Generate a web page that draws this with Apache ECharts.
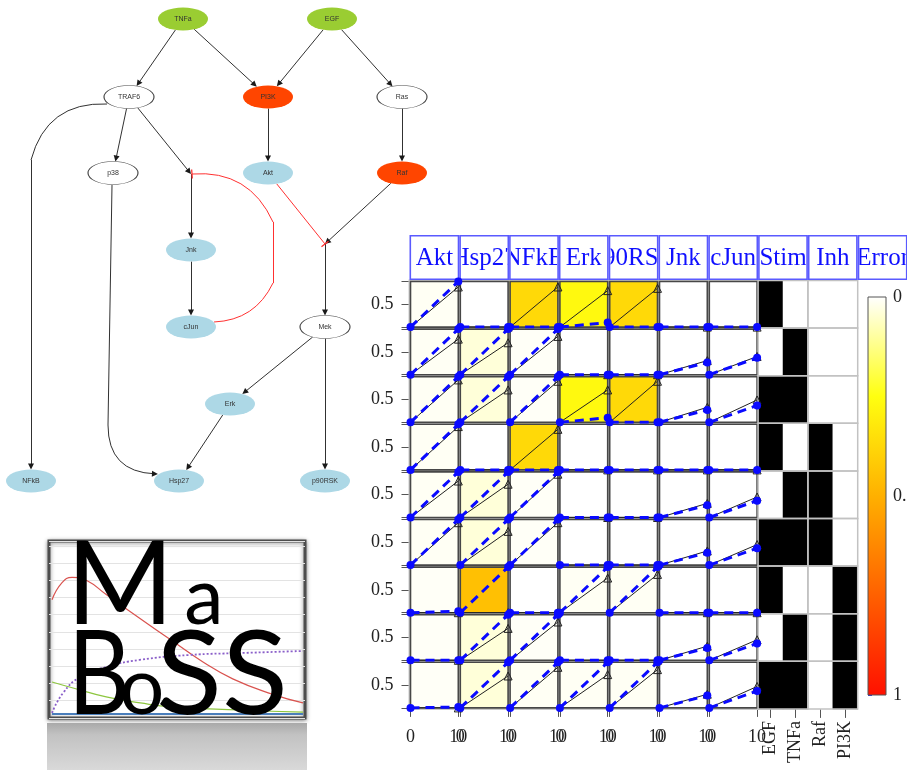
<!DOCTYPE html>
<html><head><meta charset="utf-8">
<script src="https://cdn.jsdelivr.net/npm/echarts@6/dist/echarts.min.js"></script>
<style>html,body{margin:0;padding:0;background:#fff}#c{width:907px;height:770px}</style>
</head><body><div id="c"></div>
<script>
// ================= DATA =================
// network
const networkNodes = ['TNFa','EGF','TRAF6','PI3K','Ras','p38','Akt','Raf','Jnk','cJun','Mek','Erk','NFkB','Hsp27','p90RSK'];
const nodeKinds    = ['stimulus','stimulus','hidden','inhibited','hidden','hidden','readout','inhibited','readout','readout','hidden','readout','readout','readout','readout'];
// [source, target, sign]  (and1 / and2 are AND-gate junctions)
const networkEdges = [
  ['TNFa','TRAF6',1],['TNFa','PI3K',1],['EGF','PI3K',1],['EGF','Ras',1],
  ['TRAF6','NFkB',1],['TRAF6','p38',1],['TRAF6','and1',1],['PI3K','Akt',1],['Ras','Raf',1],
  ['and1','Jnk',1],['Jnk','cJun',1],['cJun','and1',-1],['Akt','and2',-1],['Raf','and2',1],
  ['and2','Mek',1],['Mek','Erk',1],['Mek','p90RSK',1],['Erk','Hsp27',1],['p38','Hsp27',1]
];

// CNO-like data / simulation plot
const readouts = ['Akt','Hsp27','NFkB','Erk','p90RSK','Jnk','cJun'];
const headerLabels = ['Akt','Hsp27','NFkB','Erk','p90RSK','Jnk','cJun','Stim','Inh','Error'];
const conditions = ['EGF','TNFa','EGF+TNFa','EGF+Raf-i','TNFa+Raf-i','EGF+TNFa+Raf-i','EGF+PI3K-i','TNFa+PI3K-i','EGF+TNFa+PI3K-i'];
const timePoints = [0, 10];
const stimCues = ['EGF','TNFa'];
const inhCues = ['Raf','PI3K'];
const stimMatrix = [[1,0],[0,1],[1,1],[1,0],[0,1],[1,1],[1,0],[0,1],[1,1]];
const inhMatrix  = [[0,0],[0,0],[0,0],[1,0],[1,0],[1,0],[0,1],[0,1],[0,1]];
// measured data (black) at t=0 and t=10
const dataT0 = [
  [0,0,0,0,0,0,0],[0,0,0,0,0,0,0],[0,0,0,0,0,0,0],[0,0,0,0,0,0,0],[0,0,0,0,0,0,0],
  [0,0,0,0,0,0,0],[0,0,0,0,0,0,0],[0,0,0,0,0,0,0],[0,0,0,0,0,0,0]];
const dataT10 = [
  [0.88,0,   0.88,0.80,0.85,0,   0   ],
  [0.78,0.70,0.84,0,   0,   0.31,0.40],
  [0.93,0.71,0.90,0.71,0.90,0.33,0.49],
  [0.95,0,   0.89,0,   0,   0,   0   ],
  [0.80,0.73,0.95,0,   0,   0.31,0.45],
  [0.93,0.74,0.93,0,   0,   0.31,0.45],
  [0,   0,   0,   0.76,0.84,0,   0   ],
  [0,   0.70,0.84,0,   0,   0.31,0.45],
  [0,   0.70,0.89,0.73,0.84,0.30,0.47]];
// simulation (blue) at t=0 and t=10
const simT0 = [
  [0,0,0,0,0,0,0],[0,0,0,0,0,0,0],[0,0,0,0,0,0,0],[0,0,0,0,0,0,0],[0,0,0,0,0,0,0],
  [0,0,0,0,0,0,0],[0,0,0,0,0,0,0],[0,0,0,0,0,0,0],[0,0,0,0,0,0,0]];
const simT10 = [
  [1,   0,0,0.10,0,0,   0   ],
  [1,   1,1,0,   0,0.27,0.37],
  [1,   1,1,0.10,0,0.27,0.37],
  [1,   0,0,0,   0,0,   0   ],
  [1,   1,1,0,   0,0.27,0.37],
  [1,   1,1,0,   0,0.27,0.37],
  [0.03,1,0,1,   1,0,   0   ],
  [0,   1,1,0,   0,0.27,0.37],
  [0.02,1,1,1,   1,0.27,0.37]];
const errorMatrix = [
  [0.012,0,    0.37, 0.27, 0.37, 0,0],
  [0.012,0.04, 0.008,0,    0,    0,0],
  [0.012,0.04, 0.008,0.27, 0.37, 0,0],
  [0.012,0,    0.37, 0,    0,    0,0],
  [0.012,0.04, 0.008,0,    0,    0,0],
  [0.012,0.04, 0.008,0,    0,    0,0],
  [0.008,0.45, 0,    0.012,0.012,0,0],
  [0.008,0.04, 0.008,0,    0,    0,0],
  [0.008,0.04, 0.012,0.012,0.012,0,0]];
const colorbarTicks = [0, 0.5, 1];
const errorColors = ['#ffffff','#ffff10','#ffb000','#ff6000','#ff1000'];

// MaBoSS logo trajectories [time, probability]
const logoRed    = [[0,0.67],[1,0.77],[2,0.80],[3.5,0.78],[5.4,0.70],[8.8,0.56],[12,0.43],[15,0.31],[18,0.21],[22,0.12],[25,0.07]];
const logoPurple = [[0,0.012],[1.1,0.128],[2.8,0.221],[5.4,0.279],[8.7,0.32],[13.7,0.349],[18.7,0.36],[25,0.372]];
const logoGreen  = [[0,0.192],[2.1,0.157],[5.4,0.105],[8.8,0.07],[12,0.047],[18.7,0.029],[25,0.017]];
const logoBlue   = [[0,0.006],[25,0.006]];

// ================= LAYOUT =================
const nodePos = {TNFa:[183,19],EGF:[332,19],TRAF6:[129,97],PI3K:[268,97],Ras:[402,97],p38:[113,173],
  Akt:[268,173],Raf:[402,173],Jnk:[191,250],cJun:[191,327],Mek:[325,327],Erk:[230,404],
  NFkB:[31,481],Hsp27:[179,481],p90RSK:[325,481],and1:[191,174],and2:[325,244]};
const nodeHalf = [25, 11.5];
// hand-routed curved edges: list of segments [from, to, curveness]
const curvedRoutes = {
  'TRAF6>NFkB': [[[107,104],[31,160],-0.4],[[31,160],'NFkB',0]],
  'p38>Hsp27':  [[[112,185],[108,425],0],[[108,425],[157,476],-0.48]],
  'cJun>and1':  [[[214,322],[273,283],-0.3],[[273,283],[273,222],0],[[273,222],[192,174],-0.35]]
};
const kindStyle = {
  stimulus:{color:'#9acd32', borderWidth:0},
  inhibited:{color:'#ff4500', borderWidth:0},
  readout:{color:'#add8e6', borderWidth:0},
  hidden:{color:'#ffffff', borderColor:'#444', borderWidth:0.8}
};
const serif = '"Liberation Serif","DejaVu Serif",serif';
const logoFont = 'Lato,"DejaVu Sans",sans-serif';
const colX0 = 409.5, colW = 49.8, rowY0 = 280.5, rowH = 47.6;
const cbBox = {x:868, y:297, w:18, h:398};

// ================= BUILD =================
const grid=[], xAxis=[], yAxis=[], series=[];
function addGrid(g, xa, ya){ g.outerBoundsMode='none'; g.containLabel=false;
  grid.push(g); const i=grid.length-1; xa.gridIndex=i; ya.gridIndex=i; xAxis.push(xa); yAxis.push(ya); return i; }

// ---- network on a full-canvas hidden cartesian ----
const netIdx = addGrid({left:0,top:0,width:907,height:770},
  {type:'value',min:0,max:907,show:false},{type:'value',min:0,max:770,inverse:true,show:false});
function half(n){ return n.startsWith('and') ? null : nodeHalf; }
function clipPt(c, toward, h){ if(!h) return c.slice(); const dx=toward[0]-c[0], dy=toward[1]-c[1];
  const t=1/Math.sqrt((dx/h[0])**2+(dy/h[1])**2); return [c[0]+dx*t, c[1]+dy*t]; }
function pullBack(p, from, d){ const dx=p[0]-from[0], dy=p[1]-from[1], L=Math.hypot(dx,dy); return [p[0]-dx/L*d, p[1]-dy/L*d]; }
const actHead=[], actPlain=[], inhHead=[], inhPlain=[];
networkEdges.forEach(([s,t,sign])=>{
  const key = s+'>'+t;
  const headArr = sign>0?actHead:inhHead, plainArr = sign>0?actPlain:inhPlain;
  const back = sign>0?3:0;
  if (curvedRoutes[key]) {
    const segs = curvedRoutes[key];
    segs.forEach(([a,b,c],k)=>{
      let pb = typeof b==='string' ? clipPt(nodePos[b], a, half(b)) : b;
      if (k===segs.length-1) pb = pullBack(pb, a, back);
      (k===segs.length-1?headArr:plainArr).push({coords:[a,pb], lineStyle:{curveness:c}});
    });
  } else {
    const p1 = clipPt(nodePos[s], nodePos[t], half(s));
    let p2 = clipPt(nodePos[t], nodePos[s], half(t));
    p2 = pullBack(p2, p1, back);
    headArr.push({coords:[p1,p2]});
  }
});
const tee = 'path://M0,4.3L10,4.3L10,5.7L0,5.7Z M4.99,0L5.01,0L5,0.02Z M4.99,10L5.01,10L5,9.98Z';
series.push({type:'lines',coordinateSystem:'cartesian2d',xAxisIndex:netIdx,yAxisIndex:netIdx,silent:true,
  symbol:['none','triangle'],symbolSize:6,lineStyle:{color:'#1a1a1a',width:0.9,opacity:1},data:actHead});
series.push({type:'lines',coordinateSystem:'cartesian2d',xAxisIndex:netIdx,yAxisIndex:netIdx,silent:true,
  symbol:['none','none'],lineStyle:{color:'#1a1a1a',width:0.9,opacity:1},data:actPlain});
series.push({type:'lines',coordinateSystem:'cartesian2d',xAxisIndex:netIdx,yAxisIndex:netIdx,silent:true,
  symbol:['none',tee],symbolSize:9,itemStyle:{color:'#ff2a2a'},lineStyle:{color:'#ff3030',width:1,opacity:1},data:inhHead});
series.push({type:'lines',coordinateSystem:'cartesian2d',xAxisIndex:netIdx,yAxisIndex:netIdx,silent:true,
  symbol:['none','none'],lineStyle:{color:'#ff3030',width:1,opacity:1},data:inhPlain});
series.push({type:'graph',coordinateSystem:'cartesian2d',xAxisIndex:netIdx,yAxisIndex:netIdx,layout:'none',silent:true,
  symbol:'circle',symbolSize:[50,23],z:5,
  label:{show:true,position:'inside',fontSize:7,color:'#333',fontFamily:'"Liberation Sans",sans-serif'},
  data: networkNodes.map((n,i)=>({name:n,value:nodePos[n],itemStyle:kindStyle[nodeKinds[i]]})),
  links:[]});

// ---- MaBoSS logo ----
const logoIdx = addGrid({left:49,top:541,width:256,height:177,show:true,backgroundColor:'#fff',borderColor:'#4d4d4d',borderWidth:3,
    shadowBlur:4,shadowColor:'rgba(0,0,0,0.45)',shadowOffsetY:1},
  {type:'value',min:-0.3,max:25.2,show:false},
  {type:'value',min:-0.0175,max:1.0116,interval:0.1,axisLine:{show:false},axisTick:{show:false},axisLabel:{show:false},
   splitLine:{show:true,lineStyle:{color:'#e3e3e3',width:1}}});
[[logoRed,'#d9534f','solid',1.2],[logoPurple,'#8a5fc9',[2,2],1.8],[logoGreen,'#8dc63f','solid',1.2],[logoBlue,'#4a7ebb','solid',2]]
 .forEach(([d,c,t,w])=>series.push({type:'line',xAxisIndex:logoIdx,yAxisIndex:logoIdx,data:d,smooth:true,showSymbol:false,silent:true,
   lineStyle:{color:c,type:t,width:w}}));

// ---- heatmap backgrounds of panels ----
const hmIdx = addGrid({left:colX0,top:rowY0,width:colW*7,height:rowH*9},
  {type:'category',data:readouts,show:false},{type:'category',data:conditions,inverse:true,show:false});
const hmSeriesIndex = series.length;
series.push({type:'heatmap',xAxisIndex:hmIdx,yAxisIndex:hmIdx,silent:true,z:1,
  itemStyle:{borderColor:'#c8c8c8',borderWidth:1.5},
  data: errorMatrix.flatMap((r,j)=>r.map((e,i)=>[i,j,e]))});

// ---- panels ----
for (let j=0;j<conditions.length;j++) for (let i=0;i<readouts.length;i++){
  const idx = addGrid({left:colX0+i*colW+1,top:rowY0+j*rowH+1,width:colW-2,height:rowH-2,show:true,z:3,
      borderColor:'#474747',borderWidth:1.6,backgroundColor:'transparent'},
    {type:'value',min:0,max:10,interval:10,axisLine:{show:false},splitLine:{show:false},
      axisTick:{show:j===conditions.length-1,length:9,lineStyle:{color:'#555'}},
      axisLabel:{show:j===conditions.length-1,margin:20,fontFamily:serif,fontSize:18,color:'#222'}},
    {type:'value',min:0,max:1,interval:0.5,axisLine:{show:false},splitLine:{show:false},
      axisTick:{show:i===0,length:9,lineStyle:{color:'#555'}},
      axisLabel:{show:i===0,margin:17,fontFamily:serif,fontSize:18,color:'#222',formatter:v=>v===0.5?'0.5':''}});
  series.push({type:'line',xAxisIndex:idx,yAxisIndex:idx,silent:true,z:5,
    data:[{value:[timePoints[0],dataT0[j][i]],symbolSize:5,itemStyle:{color:'#222'}},
          {value:[timePoints[1],dataT10[j][i]]}],
    lineStyle:{color:'#222',width:1},symbol:'triangle',symbolSize:8,
    itemStyle:{color:'rgba(255,255,255,0)',borderColor:'#222',borderWidth:1}});
  series.push({type:'line',xAxisIndex:idx,yAxisIndex:idx,silent:true,z:6,
    data:[[timePoints[0],simT0[j][i]],[timePoints[1],simT10[j][i]]],
    lineStyle:{color:'#0a0aff',width:3,type:[9,6]},symbol:'circle',symbolSize:8,itemStyle:{color:'#0a0aff'}});
}

// ---- stimuli / inhibitors (one strip per condition) ----
const cueSeries = [];
[[stimCues,stimMatrix,7],[inhCues,inhMatrix,8]].forEach(([cues,mat,c])=>{
  mat.forEach((row,j)=>{
    const last = j===mat.length-1;
    const idx = addGrid({left:colX0+c*colW,top:rowY0+j*rowH,width:colW,height:rowH,show:true,z:3,
        borderColor:'#c2c2c2',borderWidth:1.5,backgroundColor:'transparent'},
      {type:'category',data:cues,axisLine:{show:false},splitLine:{show:false},
        axisTick:{show:last,alignWithLabel:true,length:9,lineStyle:{color:'#555'}},
        axisLabel:{show:last,rotate:90,margin:12,fontFamily:serif,fontSize:18,color:'#222',interval:0}},
      {type:'category',data:[conditions[j]],show:false});
    cueSeries.push(series.length);
    series.push({type:'heatmap',xAxisIndex:idx,yAxisIndex:idx,silent:true,z:1,
      data: row.map((v,i)=>[i,0,v])});
  });
});

// ---- headers ----
const hdrIdx = addGrid({left:colX0,top:235,width:colW*10,height:45},
  {type:'category',data:headerLabels,show:false},{type:'value',min:0,max:1,show:false});
series.push({type:'custom',xAxisIndex:hdrIdx,yAxisIndex:hdrIdx,silent:true,z:6,
  data: headerLabels.map((h,i)=>[i,0]),
  renderItem:(params,api)=>{
    const i=api.value(0), c=api.coord([i,0]), bw=api.size([1,0])[0], cs=params.coordSys;
    const r={x:c[0]-bw/2+0.8,y:cs.y+0.8,width:bw-1.6,height:cs.height-1.6};
    return {type:'group',children:[
      {type:'rect',shape:r,style:{fill:'#fff',stroke:'#5a5aff',lineWidth:1.6}},
      {type:'group',clipPath:{type:'rect',shape:{x:r.x+1,y:r.y+1,width:r.width-2,height:r.height-2}},children:[
        {type:'text',x:c[0],y:cs.y+cs.height/2+1,style:{text:headerLabels[i],fill:'#1010ff',
          font:'25px '+serif,align:'center',verticalAlign:'middle'}}]}
    ]};
  }});

// ---- colour bar axis ----
const cbIdx = addGrid({left:cbBox.x,top:cbBox.y,width:cbBox.w,height:cbBox.h,show:false},
  {type:'value',show:false},
  {type:'value',min:0,max:1,interval:0.5,inverse:true,position:'right',axisLine:{show:false},splitLine:{show:false},
    axisTick:{length:4,lineStyle:{color:'#3333ff'}},
    axisLabel:{margin:7,fontFamily:serif,fontSize:18,color:'#222',formatter:v=>colorbarTicks.includes(v)?String(v):''}});

const option = {
  animation:false,
  grid, xAxis, yAxis, series,
  visualMap:[
    {type:'continuous',seriesIndex:hmSeriesIndex,min:0,max:1,show:false,inRange:{color:errorColors}},
    {type:'piecewise',seriesIndex:cueSeries,show:false,pieces:[{value:0,color:'#ffffff'},{value:1,color:'#000000'}]}
  ],
  graphic:[
    {type:'rect',x:cbBox.x,y:cbBox.y,z:5,shape:{x:0,y:0,width:cbBox.w,height:cbBox.h},
      style:{stroke:'#555',lineWidth:1,
        fill:new echarts.graphic.LinearGradient(0,0,0,1,errorColors.map((c,k)=>({offset:k/(errorColors.length-1),color:c})))}},
    {type:'rect',x:47,y:723,z:1,shape:{x:0,y:0,width:260,height:47},
      style:{fill:new echarts.graphic.LinearGradient(0,0,0,1,[{offset:0,color:'#a9a9a9'},{offset:0.25,color:'#c2c2c2'},{offset:1,color:'#d9d9d9'}])}},
    {type:'text',z:100,x:120,y:587,style:{text:'M',font:'116px '+logoFont,fill:'#000',align:'center',verticalAlign:'middle'}},
    {type:'text',z:100,x:204,y:599,style:{text:'a',font:'79px '+logoFont,fill:'#000',align:'center',verticalAlign:'middle'}},
    {type:'text',z:100,x:99,y:677,scaleX:0.83,style:{text:'B',font:'116px '+logoFont,fill:'#000',align:'center',verticalAlign:'middle'}},
    {type:'text',z:100,x:142,y:689,style:{text:'o',font:'79px '+logoFont,fill:'#000',align:'center',verticalAlign:'middle'}},
    {type:'text',z:100,x:189,y:677,scaleX:1.05,style:{text:'S',font:'116px '+logoFont,fill:'#000',align:'center',verticalAlign:'middle'}},
    {type:'text',z:100,x:255,y:677,scaleX:1.05,style:{text:'S',font:'116px '+logoFont,fill:'#000',align:'center',verticalAlign:'middle'}}
  ]
};
const chart = echarts.init(document.getElementById('c'));
chart.setOption(option);
</script></body></html>
